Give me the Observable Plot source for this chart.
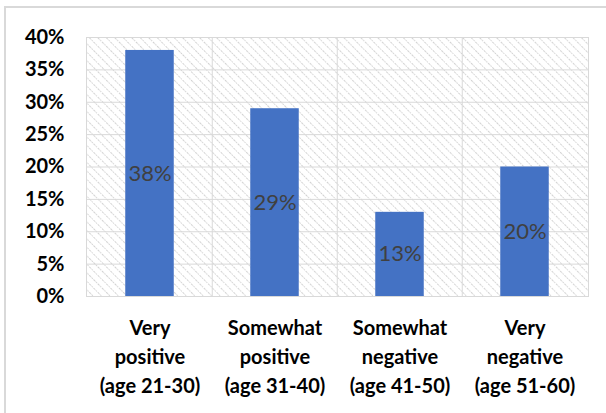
<!DOCTYPE html>
<html>
<head>
<meta charset="utf-8">
<script src="https://cdn.jsdelivr.net/npm/d3@7"></script>
<script src="https://cdn.jsdelivr.net/npm/@observablehq/plot@0.6"></script>
<style>
  html, body { margin: 0; padding: 0; background: #fff; overflow: hidden; }
  #wrap { position: relative; width: 606px; height: 413px; }
  #border { position: absolute; left: 4px; top: 6px; width: 700px; height: 600px; border: 2px solid #d9d9d9; box-sizing: border-box; pointer-events: none; }
  #chart { position: absolute; left: 0; top: 0; }
</style>
</head>
<body>
<div id="wrap"><div id="border"></div><div id="chart"></div></div>
<script>
const categories = [
  "Very\npositive\n(age 21-30)",
  "Somewhat\npositive\n(age 31-40)",
  "Somewhat\nnegative\n(age 41-50)",
  "Very\nnegative\n(age 51-60)"
];
const values = [0.38, 0.29, 0.13, 0.20];
const yTicks = [0, 0.05, 0.10, 0.15, 0.20, 0.25, 0.30, 0.35, 0.40];

const data = categories.map((c, i) => ({category: c, value: values[i]}));

const W = 606, H = 413;
const mL = 86, mR = 18, mT = 37, mB = 117;
const bw = (W - mL - mR) / categories.length;
const barW = 49;
const inset = (bw - barW) / 2;
const font = "Lato, 'Open Sans', sans-serif";

const chart = Plot.plot({
  width: W,
  height: H,
  marginLeft: mL,
  marginRight: mR,
  marginTop: mT,
  marginBottom: mB,
  style: {fontFamily: font, background: "transparent"},
  x: {domain: categories, padding: 0, label: null},
  y: {domain: [0, 0.4], label: null},
  marks: [
    Plot.frame({fill: "url(#hatch)", stroke: null}),
    Plot.gridY(yTicks, {stroke: "#d9d9d9", strokeOpacity: 1, strokeWidth: 1}),
    Plot.ruleX(categories.slice(1), {dx: -bw / 2, stroke: "#d9d9d9", strokeWidth: 1}),
    Plot.frame({stroke: "#d9d9d9", strokeWidth: 1}),
    Plot.barY(data, {x: "category", y: "value", fill: "#4472c4", insetLeft: inset, insetRight: inset}),
    Plot.text(data, {
      x: "category",
      y: d => d.value / 2,
      text: d => Math.round(d.value * 100) + "%",
      fill: "#404040",
      fontSize: 22,
      fontFamily: font
    }),
    Plot.axisY({
      ticks: yTicks,
      tickFormat: d => Math.round(d * 100) + "%",
      tickSize: 0,
      tickPadding: 22,
      fontSize: 20,
      fontWeight: "bold",
      fill: "#000",
      label: null
    }),
    Plot.axisX({
      tickSize: 0,
      tickPadding: 18,
      fontSize: 20,
      fontWeight: "bold",
      fill: "#000",
      lineHeight: 1.45,
      label: null
    })
  ]
});

const ns = "http://www.w3.org/2000/svg";
const defs = document.createElementNS(ns, "defs");
const pat = document.createElementNS(ns, "pattern");
pat.setAttribute("id", "hatch");
pat.setAttribute("patternUnits", "userSpaceOnUse");
pat.setAttribute("width", "6");
pat.setAttribute("height", "6");
pat.setAttribute("patternTransform", "rotate(-45)");
const bg = document.createElementNS(ns, "rect");
bg.setAttribute("width", "6"); bg.setAttribute("height", "6"); bg.setAttribute("fill", "#fff");
const ln = document.createElementNS(ns, "line");
ln.setAttribute("x1", "0"); ln.setAttribute("y1", "0");
ln.setAttribute("x2", "0"); ln.setAttribute("y2", "6");
ln.setAttribute("stroke", "#c8c8c8");
ln.setAttribute("stroke-width", "1.6");
ln.setAttribute("stroke-dasharray", "1.5 1");
pat.appendChild(bg); pat.appendChild(ln);
defs.appendChild(pat);
chart.insertBefore(defs, chart.firstChild);

document.getElementById("chart").appendChild(chart);
</script>
</body>
</html>
